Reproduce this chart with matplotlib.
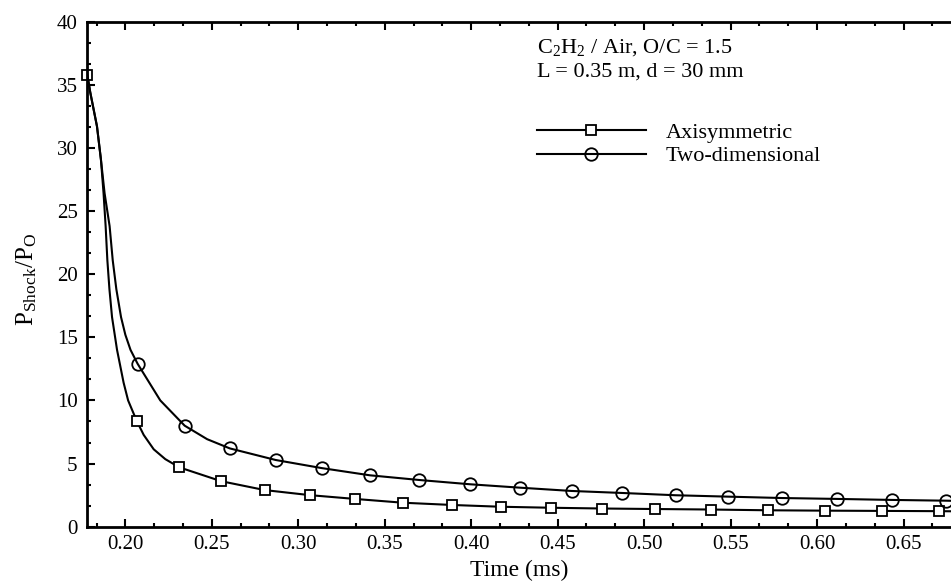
import matplotlib
matplotlib.use("Agg")
import matplotlib.pyplot as plt
from matplotlib.ticker import MultipleLocator, AutoMinorLocator

plt.rcParams['font.family'] = ['Liberation Serif', 'DejaVu Serif']
plt.rcParams['mathtext.fontset'] = 'custom'
plt.rcParams['mathtext.rm'] = 'Liberation Serif'
plt.rcParams['mathtext.it'] = 'Liberation Serif:italic'

# axisymmetric curve, markers at the listed indices
t_axi = [0.178, 0.1797, 0.1836, 0.1859, 0.1874, 0.1886, 0.1896, 0.1908, 0.1923,
         0.1952, 0.199, 0.2016, 0.2066, 0.2106, 0.2164, 0.2231, 0.2312, 0.2555,
         0.2806, 0.3066, 0.3327, 0.3604, 0.389, 0.417, 0.4463, 0.4758, 0.5063,
         0.5384, 0.5716, 0.6046, 0.6378, 0.6705, 0.678]
p_axi = [35.8, 34.4, 31.7, 29.05, 26.4, 23.8, 21.1, 18.8, 16.6,
         14.0, 11.4, 10.0, 8.37, 7.27, 6.13, 5.35, 4.7, 3.6,
         2.9, 2.5, 2.2, 1.9, 1.72, 1.58, 1.5, 1.44, 1.4,
         1.36, 1.3, 1.27, 1.25, 1.23, 1.22]
mk_axi = [0, 12, 16, 17, 18, 19, 20, 21, 22, 23, 24, 25, 26, 27, 28, 29, 30, 31]

# two-dimensional curve
t_2d = [0.178, 0.1797, 0.1836, 0.1859, 0.188, 0.1909, 0.1927, 0.1948, 0.1975,
        0.2000, 0.2030, 0.2071, 0.2202, 0.2343, 0.2473, 0.2604, 0.287, 0.3136,
        0.3414, 0.3698, 0.3993, 0.4282, 0.458, 0.4874, 0.5182, 0.5485, 0.5799,
        0.6114, 0.6432, 0.6744, 0.678]
p_2d = [35.8, 34.4, 31.7, 29.05, 26.4, 23.8, 21.1, 18.8, 16.6,
        15.2, 14.0, 12.9, 10.0, 8.0, 6.93, 6.2, 5.28, 4.64,
        4.07, 3.7, 3.36, 3.09, 2.83, 2.67, 2.49, 2.38, 2.27,
        2.2, 2.12, 2.06, 2.05]
mk_2d = [11, 13, 15, 16, 17, 18, 19, 20, 21, 22, 23, 24, 25, 26, 27, 28, 29]

fig = plt.figure(figsize=(9.51, 5.86), dpi=100)
ax = fig.add_axes([0.0918, 0.1012, 0.9092, 0.862])

ax.plot(t_axi, p_axi, color='black', lw=1.5, marker='s', markevery=mk_axi,
        ms=7, mfc='white', mec='black', mew=1.3, label='Axisymmetric', clip_on=False)
ax.plot(t_2d, p_2d, color='black', lw=1.5, marker='o', markevery=mk_2d,
        ms=9, mfc='none', mec='black', mew=1.3, label='Two-dimensional')

ax.set_xlim(0.178, 0.678)
ax.set_ylim(0, 40)
ax.xaxis.set_major_locator(MultipleLocator(0.05))
ax.xaxis.set_minor_locator(AutoMinorLocator(3))
ax.yaxis.set_major_locator(MultipleLocator(5))
ax.yaxis.set_minor_locator(AutoMinorLocator(3))
ax.xaxis.set_major_formatter(plt.FormatStrFormatter('%.2f'))
ax.tick_params(which='both', direction='in', top=True, right=False, labelsize=15, width=1.5)
ax.tick_params(which='major', length=6)
ax.tick_params(which='minor', length=3)
ax.tick_params(axis='y', pad=7)
ax.tick_params(axis='x', pad=6)
for s in ax.spines.values():
    s.set_linewidth(2)

ax.set_xlabel('Time (ms)', fontsize=17, labelpad=4)
ax.set_ylabel(r'P$_{\mathrm{Shock}}$/P$_{\mathrm{O}}$', fontsize=18)
ax.yaxis.set_label_coords(-0.056, 0.49)

ax.text(0.52, 0.948, r'C$_2$H$_2$ / Air, O/C = 1.5', transform=ax.transAxes,
        fontsize=16, va='center')
ax.text(0.52, 0.900, 'L = 0.35 m, d = 30 mm', transform=ax.transAxes,
        fontsize=16, va='center')

leg = ax.legend(loc='upper left', bbox_to_anchor=(0.52, 0.80), frameon=False,
                fontsize=16, handlelength=4.9, numpoints=1, handletextpad=0.9,
                labelspacing=0.12, borderaxespad=0, borderpad=0)

fig.savefig('out.png', dpi=100)
